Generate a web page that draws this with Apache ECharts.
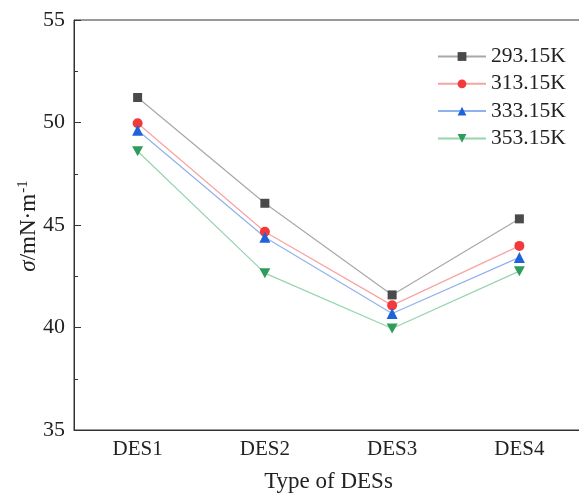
<!DOCTYPE html>
<html>
<head>
<meta charset="utf-8">
<script src="https://cdn.jsdelivr.net/npm/echarts@6/dist/echarts.min.js"></script>
<style>html,body{margin:0;padding:0;background:#fff;}#c{width:579px;height:493px;}</style>
</head>
<body>
<div id="c"></div>
<script>
const categories = ['DES1', 'DES2', 'DES3', 'DES4'];
const seriesNames = ['293.15K', '313.15K', '333.15K', '353.15K'];
const s293 = [51.22, 46.06, 41.59, 45.30];
const s313 = [49.96, 44.67, 41.08, 43.98];
const s333 = [49.62, 44.40, 40.68, 43.42];
const s353 = [48.60, 42.65, 39.95, 42.75];
const yTicks = [35, 40, 45, 50, 55];

const FONT = '"Liberation Serif","DejaVu Serif",serif';
const styles = [
  {sym: 'rect', size: 9, mark: '#4a4a4a', line: '#a8a8a8'},
  {sym: 'circle', size: 10, mark: '#f23a3c', line: '#f7a3a3'},
  {sym: 'triangle', size: 11, mark: '#1e64d9', line: '#8fb2ee'},
  {sym: 'path://M0,0 L10,0 L5,9 Z', size: [11, 10], mark: '#2e9c5c', line: '#95d4ad'}
];
const data = [s293, s313, s333, s353];

const chart = echarts.init(document.getElementById('c'), null, {renderer: 'canvas'});
chart.setOption({
  backgroundColor: '#fff',
  animation: false,
  textStyle: {fontFamily: FONT},
  grid: {left: 74, top: 20, width: 509, height: 410, outerBoundsMode: 'none', containLabel: false,
         show: true, borderColor: '#333', borderWidth: 1, backgroundColor: 'transparent'},
  legend: {
    orient: 'vertical', left: 437, top: 45.5, padding: 0, itemWidth: 48, itemHeight: 11, itemGap: 5.3,
    textStyle: {fontFamily: FONT, fontSize: 21.5, color: '#222'},
    data: seriesNames
  },
  xAxis: {
    type: 'category', data: categories, boundaryGap: true,
    axisLine: {lineStyle: {color: '#333', width: 1}},
    axisTick: {inside: true, alignWithLabel: true, length: 7, lineStyle: {color: '#333'}},
    axisLabel: {fontFamily: FONT, fontSize: 21, color: '#222', margin: 9},
    name: 'Type of DESs', nameLocation: 'middle', nameGap: 40,
    nameTextStyle: {fontFamily: FONT, fontSize: 23, color: '#222'},
    splitLine: {show: false}
  },
  yAxis: {
    type: 'value', min: yTicks[0], max: yTicks[yTicks.length - 1], interval: 5,
    axisLine: {show: true, lineStyle: {color: '#333', width: 1}},
    axisTick: {show: true, inside: true, length: 7, lineStyle: {color: '#333'}},
    minorTick: {show: true, splitNumber: 2, length: 4, lineStyle: {color: '#333'}},
    axisLabel: {fontFamily: FONT, fontSize: 22, color: '#222', margin: 9},
    splitLine: {show: false}
  },
  graphic: [{
    type: 'text', x: 29, y: 226, rotation: Math.PI / 2,
    style: {
      text: '{i|σ}{n|/mN·m}{s|-1}',
      textAlign: 'center', textVerticalAlign: 'middle',
      rich: {
        i: {fontFamily: FONT, fontSize: 23, fontStyle: 'italic', fill: '#222'},
        n: {fontFamily: FONT, fontSize: 23, fill: '#222'},
        s: {fontFamily: FONT, fontSize: 15, fill: '#222', verticalAlign: 'top', padding: [0, 0, 12, 1]}
      }
    }
  }],
  series: data.map((d, i) => ({
    name: seriesNames[i], type: 'line', data: d,
    symbol: styles[i].sym, symbolSize: styles[i].size,
    itemStyle: {color: styles[i].mark},
    lineStyle: {color: styles[i].line, width: 1.2},
    emphasis: {disabled: true}
  }))
});
</script>
</body>
</html>
